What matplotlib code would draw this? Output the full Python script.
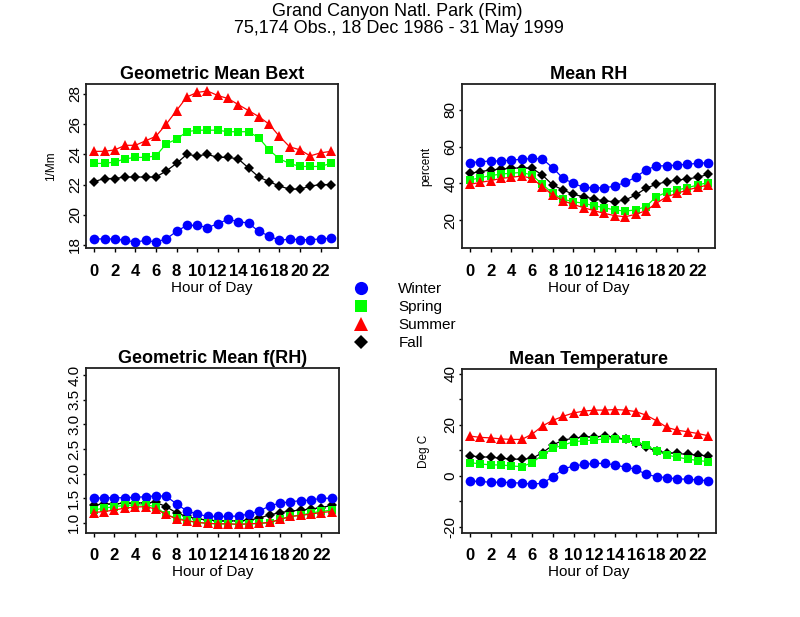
import matplotlib
matplotlib.use("Agg")
import matplotlib.pyplot as plt
from matplotlib.lines import Line2D
from matplotlib.ticker import FixedLocator, FixedFormatter

plt.rcParams['font.family'] = ['Liberation Sans', 'DejaVu Sans']

hours = list(range(24))
xtick_vals = list(range(0, 24, 2))
xtick_labels = [str(h) for h in xtick_vals]

seasons = ["Winter", "Spring", "Summer", "Fall"]
season_colors = {"Winter": "#0000ff", "Spring": "#00ff00", "Summer": "#ff0000", "Fall": "#000000"}
season_markers = {"Winter": "o", "Spring": "s", "Summer": "^", "Fall": "D"}
season_msize = {"Winter": 7.0, "Spring": 6.3, "Summer": 7.0, "Fall": 5.2}

bext_winter = [18.4, 18.4, 18.4, 18.3, 18.2, 18.3, 18.2, 18.4, 18.9, 19.3, 19.3, 19.15,
               19.4, 19.7, 19.55, 19.45, 18.9, 18.6, 18.3, 18.4, 18.35, 18.35, 18.4, 18.45]
bext_spring = [23.4, 23.4, 23.5, 23.7, 23.8, 23.8, 23.9, 24.7, 25.0, 25.5, 25.6, 25.6,
               25.6, 25.5, 25.5, 25.5, 25.1, 24.3, 23.7, 23.4, 23.2, 23.2, 23.2, 23.4]
bext_summer = [24.2, 24.2, 24.3, 24.6, 24.6, 24.9, 25.2, 26.0, 26.9, 27.8, 28.1, 28.2,
               27.9, 27.7, 27.3, 26.9, 26.5, 26.0, 25.2, 24.5, 24.3, 23.9, 24.1, 24.2]
bext_fall = [22.2, 22.4, 22.4, 22.5, 22.5, 22.5, 22.5, 22.9, 23.4, 24.0, 23.9, 24.0,
             23.8, 23.8, 23.7, 23.1, 22.5, 22.2, 21.9, 21.7, 21.7, 21.9, 22.0, 22.0]

rh_winter = [51.3, 51.8, 52.2, 52.2, 52.7, 53.1, 53.6, 53.3, 48.5, 42.7, 40.0, 37.8,
             37.6, 37.6, 38.5, 40.5, 43.3, 47.3, 49.5, 49.6, 50.0, 50.4, 50.9, 51.3]
rh_spring = [41.8, 43.1, 44.2, 45.1, 45.5, 46.0, 44.5, 39.5, 34.5, 31.3, 30.0, 29.1,
             27.8, 26.7, 25.5, 24.9, 25.5, 27.3, 32.7, 35.1, 36.4, 37.6, 39.1, 40.4]
rh_summer = [39.5, 40.5, 41.5, 42.7, 43.3, 44.0, 42.7, 38.2, 33.6, 30.5, 28.5, 26.7,
             25.1, 23.6, 22.4, 21.8, 23.1, 25.1, 29.1, 32.7, 34.5, 36.4, 37.8, 39.1]
rh_fall = [45.5, 46.4, 47.3, 47.8, 48.2, 48.5, 48.2, 44.5, 39.1, 36.4, 34.0, 32.7,
           31.5, 30.4, 30.0, 30.9, 33.6, 37.3, 39.5, 40.9, 41.8, 42.4, 43.3, 44.9]

frh_winter = [1.50, 1.51, 1.51, 1.51, 1.52, 1.53, 1.55, 1.54, 1.385, 1.24, 1.18, 1.13,
              1.13, 1.13, 1.14, 1.18, 1.24, 1.345, 1.40, 1.43, 1.45, 1.465, 1.50, 1.50]
frh_spring = [1.26, 1.30, 1.33, 1.355, 1.365, 1.365, 1.33, 1.16, 1.10, 1.05, 1.01, 0.99,
              0.98, 0.98, 0.97, 0.98, 0.99, 1.00, 1.07, 1.13, 1.16, 1.20, 1.235, 1.255]
frh_summer = [1.21, 1.23, 1.26, 1.30, 1.32, 1.33, 1.28, 1.17, 1.08, 1.04, 1.01, 0.99,
              0.98, 0.98, 0.97, 0.98, 0.99, 1.01, 1.07, 1.13, 1.15, 1.18, 1.21, 1.23]
frh_fall = [1.365, 1.38, 1.385, 1.40, 1.40, 1.41, 1.415, 1.33, 1.20, 1.13, 1.08, 1.06,
            1.04, 1.04, 1.04, 1.05, 1.10, 1.16, 1.21, 1.24, 1.26, 1.28, 1.31, 1.355]

temp_winter = [-2.1, -2.3, -2.6, -2.6, -2.7, -3.0, -3.3, -3.0, -0.4, 2.6, 3.8, 4.4,
               4.8, 4.8, 4.2, 3.3, 2.5, 0.5, -0.4, -0.8, -1.3, -1.4, -1.7, -2.0]
temp_spring = [5.1, 4.6, 4.2, 4.2, 3.8, 3.5, 5.1, 8.1, 10.7, 12.0, 13.3, 13.7,
               14.0, 14.4, 14.4, 14.2, 13.3, 12.0, 9.6, 8.1, 7.2, 6.5, 5.9, 5.5]
temp_summer = [15.5, 15.0, 14.8, 14.4, 14.2, 14.2, 16.3, 19.5, 21.7, 23.3, 24.6, 25.3,
               25.7, 25.7, 25.9, 25.7, 25.1, 23.7, 21.5, 18.9, 17.8, 17.2, 16.5, 15.6]
temp_fall = [7.7, 7.4, 7.2, 6.8, 6.5, 6.4, 6.8, 9.0, 12.0, 14.0, 14.6, 15.2,
             15.2, 15.5, 15.0, 14.2, 12.9, 11.1, 9.6, 9.0, 8.7, 8.3, 8.1, 7.7]

bext_ticks = [18, 20, 22, 24, 26, 28]
bext_labels = ["18", "20", "22", "24", "26", "28"]
rh_ticks = [20, 40, 60, 80]
rh_labels = ["20", "40", "60", "80"]
frh_ticks = [1.0, 1.5, 2.0, 2.5, 3.0, 3.5, 4.0]
frh_labels = ["1.0", "1.5", "2.0", "2.5", "3.0", "3.5", "4.0"]
temp_ticks = [-20, -10, 0, 10, 20, 30, 40]
temp_labels = ["-20", "", "0", "", "20", "", "40"]

W, H = 800, 617
fig = plt.figure(figsize=(W / 100, H / 100), dpi=100)


def rect(l, r, t, b):
    return [l / W, 1 - b / H, (r - l) / W, (b - t) / H]


panels = [
    dict(rect=rect(86, 338, 84.3, 248.3), title="Geometric Mean Bext", ylabel="1/Mm", ylpad=8,
         data={"Winter": bext_winter, "Spring": bext_spring, "Summer": bext_summer, "Fall": bext_fall},
         ylim=(17.78, 28.64), ticks=bext_ticks, labels=bext_labels),
    dict(rect=rect(461.7, 715.2, 84.3, 248.3), title="Mean RH", ylabel="percent", ylpad=8,
         data={"Winter": rh_winter, "Spring": rh_spring, "Summer": rh_summer, "Fall": rh_fall},
         ylim=(4.6, 94.0), ticks=rh_ticks, labels=rh_labels),
    dict(rect=rect(85.5, 339, 368.3, 532.7), title="Geometric Mean f(RH)", ylabel=None, ylpad=0,
         data={"Winter": frh_winter, "Spring": frh_spring, "Summer": frh_summer, "Fall": frh_fall},
         ylim=(0.80, 4.14), ticks=frh_ticks, labels=frh_labels),
    dict(rect=rect(461.7, 715.7, 369.3, 533), title="Mean Temperature", ylabel="Deg C", ylpad=9.5,
         data={"Winter": temp_winter, "Spring": temp_spring, "Summer": temp_summer, "Fall": temp_fall},
         ylim=(-22.5, 41.7), ticks=temp_ticks, labels=temp_labels),
]

draw_order = ["Fall", "Winter", "Spring", "Summer"]

for p in panels:
    ax = fig.add_axes(p["rect"])
    for s in draw_order:
        ax.plot(hours, p["data"][s], color=season_colors[s], marker=season_markers[s],
                markersize=season_msize[s], markeredgewidth=0, linewidth=0.9)
    ax.set_xlim(-0.8, 23.7)
    ax.set_ylim(*p["ylim"])
    ax.xaxis.set_major_locator(FixedLocator(xtick_vals))
    ax.xaxis.set_major_formatter(FixedFormatter(xtick_labels))
    ax.yaxis.set_major_locator(FixedLocator(p["ticks"]))
    ax.yaxis.set_major_formatter(FixedFormatter(p["labels"]))
    ax.tick_params(axis='x', length=3, width=1, pad=8, labelsize=12)
    ax.tick_params(axis='y', length=2.5, width=1, pad=0.5, labelsize=11)
    for lab in ax.get_xticklabels():
        lab.set_fontweight('bold')
    for lab in ax.get_yticklabels():
        lab.set_rotation(90)
        lab.set_va('center')
    for sp in ax.spines.values():
        sp.set_linewidth(1.3)
        sp.set_color('#202020')
    ax.set_title(p["title"], fontsize=13, fontweight='bold', pad=3.6)
    ax.set_xlabel("Hour of Day", fontsize=11, labelpad=1.5)
    if p["ylabel"]:
        ax.set_ylabel(p["ylabel"], fontsize=8.5, labelpad=p["ylpad"])

fig.text(0.497, 1 - 16 / H, "Grand Canyon Natl. Park (Rim)", ha='center', va='baseline', fontsize=13)
fig.text(0.499, 1 - 33 / H, "75,174 Obs., 18 Dec 1986 - 31 May 1999", ha='center', va='baseline', fontsize=13)

legend_size = {"Winter": 9.5, "Spring": 8.6, "Summer": 9.5, "Fall": 7.2}
handles = [Line2D([], [], linestyle='none', marker=season_markers[s], color=season_colors[s],
                  markersize=legend_size[s], markeredgewidth=0) for s in seasons]
fig.legend(handles, seasons, loc='upper left', bbox_to_anchor=(345.7 / W, 1 - 282 / H),
           frameon=False, fontsize=11, handlelength=2.0, handletextpad=1.45,
           labelspacing=0.26, borderpad=0, borderaxespad=0)

fig.savefig("out.png", dpi=100)
